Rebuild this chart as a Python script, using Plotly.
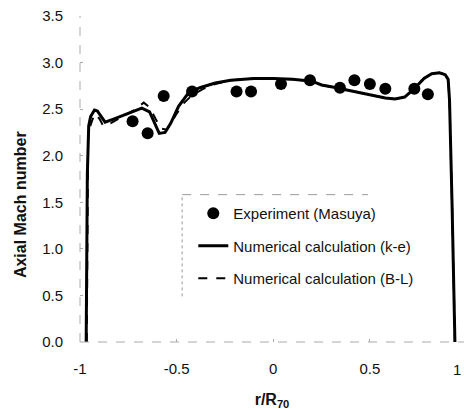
import plotly.graph_objects as go

# Experiment (Masuya)
exp_x = [-0.728, -0.65, -0.567, -0.42, -0.19, -0.115, 0.04, 0.19, 0.345, 0.42, 0.50, 0.58, 0.73, 0.80]
exp_y = [2.37, 2.24, 2.64, 2.69, 2.69, 2.69, 2.77, 2.81, 2.73, 2.81, 2.77, 2.72, 2.72, 2.66]

# Numerical calculation (k-e)
ke_x = [-0.968, -0.965, -0.962, -0.955, -0.945, -0.925, -0.91, -0.89, -0.87, -0.83, -0.76, -0.70, -0.68,
        -0.64, -0.61, -0.59, -0.56, -0.53, -0.49, -0.44, -0.38, -0.30, -0.22, -0.10, 0.0, 0.10, 0.20,
        0.25, 0.30, 0.37, 0.45, 0.52, 0.58, 0.63, 0.68, 0.73, 0.78, 0.82, 0.86, 0.89, 0.905, 0.912,
        0.918, 0.925, 0.932, 0.94]
ke_y = [0.0, 0.8, 1.8, 2.32, 2.42, 2.49, 2.48, 2.42, 2.36, 2.39, 2.45, 2.50, 2.51, 2.47, 2.33, 2.24,
        2.25, 2.35, 2.53, 2.67, 2.73, 2.78, 2.81, 2.83, 2.83, 2.82, 2.80, 2.76, 2.74, 2.71, 2.68,
        2.65, 2.62, 2.61, 2.63, 2.72, 2.83, 2.88, 2.89, 2.87, 2.82, 2.6, 2.2, 1.5, 0.8, 0.0]

# Numerical calculation (B-L)
bl_x = [-0.965, -0.962, -0.958, -0.95, -0.925, -0.90, -0.88, -0.84, -0.78, -0.72, -0.67, -0.64,
        -0.61, -0.58, -0.55, -0.50, -0.46, -0.42, -0.36, -0.30, -0.22, -0.10, 0.0, 0.10, 0.20, 0.25,
        0.30, 0.37, 0.45, 0.52, 0.58, 0.63, 0.68, 0.73, 0.78, 0.82, 0.86, 0.89, 0.905, 0.912, 0.918,
        0.925, 0.932, 0.94]
bl_y = [0.0, 1.5, 2.2, 2.30, 2.45, 2.40, 2.32, 2.35, 2.42, 2.49, 2.57, 2.52, 2.40, 2.29, 2.28, 2.45,
        2.57, 2.65, 2.72, 2.77, 2.81, 2.83, 2.83, 2.82, 2.80, 2.76, 2.74, 2.71, 2.68, 2.65, 2.62,
        2.61, 2.63, 2.72, 2.83, 2.88, 2.89, 2.87, 2.82, 2.6, 2.2, 1.5, 0.8, 0.0]

y_ticks = [0.0, 0.5, 1.0, 1.5, 2.0, 2.5, 3.0, 3.5]
x_ticks = [-1, -0.5, 0, 0.5, 1]
x_tick_labels = ["-1", "-0.5", "0", "0.5", "1"]

FONT = "Liberation Sans, Arial, sans-serif"

fig = go.Figure()
fig.add_trace(go.Scatter(x=exp_x, y=exp_y, mode="markers", name="Experiment (Masuya)",
                         legendgroup="a",
                         marker=dict(symbol="circle", size=12, color="black")))
fig.add_trace(go.Scatter(x=ke_x, y=ke_y, mode="lines", name="Numerical calculation (k-e)",
                         legendgroup="b", line=dict(color="black", width=3)))
fig.add_trace(go.Scatter(x=bl_x, y=bl_y, mode="lines", name="Numerical calculation (B-L)",
                         legendgroup="c", line=dict(color="black", width=2, dash="dash")))

fig.update_layout(
    width=464, height=410,
    margin=dict(l=80, r=0, t=16, b=68),
    paper_bgcolor="white", plot_bgcolor="white",
    font=dict(family=FONT, size=15, color="#111"),
    showlegend=True,
    legend=dict(x=0.295, y=0.445, xanchor="left", yanchor="top",
                bgcolor="rgba(0,0,0,0)", borderwidth=0,
                font=dict(size=15, color="#111"), tracegroupgap=10,
                itemwidth=30),
    xaxis=dict(range=[-1, 0.987], tickvals=x_ticks, ticktext=x_tick_labels,
               showgrid=False, zeroline=False, showline=False,
               ticks="inside", ticklen=3, tickcolor="#aaa",
               ticklabelstandoff=16,
               title=dict(text="<b>r/R<sub>70</sub></b>", font=dict(size=16), standoff=18)),
    yaxis=dict(range=[0, 3.5], tickvals=y_ticks, tickformat=".1f",
               showgrid=False, zeroline=False, showline=False,
               ticks="inside", ticklen=3, tickcolor="#aaa",
               ticklabelstandoff=16),
)

# y-axis title
fig.add_annotation(x=0, xref="paper", xshift=-60, xanchor="center",
                   y=0.42, yref="paper", yanchor="middle",
                   text="<b>Axial Mach number</b>", textangle=-90, showarrow=False,
                   font=dict(size=16, color="#111"))

# faint dashed axis lines (scanned look)
fig.add_shape(type="line", xref="paper", yref="paper", x0=0, x1=0, y0=0, y1=1,
              line=dict(color="#aaa", width=1, dash="dash"))
fig.add_shape(type="line", xref="paper", yref="paper", x0=0, x1=1, y0=0, y1=0,
              line=dict(color="#aaa", width=1, dash="dash"))
# legend frame (top and left edges, dashed)
fig.add_shape(type="line", xref="paper", yref="paper", x0=0.266, x1=0.75, y0=0.452, y1=0.452,
              line=dict(color="#999", width=1, dash="dash"))
fig.add_shape(type="line", xref="paper", yref="paper", x0=0.266, x1=0.266, y0=0.14, y1=0.452,
              line=dict(color="#999", width=1, dash="dot"))

# "1" tick label at the right edge
fig.add_annotation(x=1, xref="paper", y=0, yref="paper", text="1", showarrow=False,
                   xanchor="right", yanchor="top", xshift=-1, yshift=-17,
                   font=dict(size=15, color="#111"))

fig.write_html("out.html")
